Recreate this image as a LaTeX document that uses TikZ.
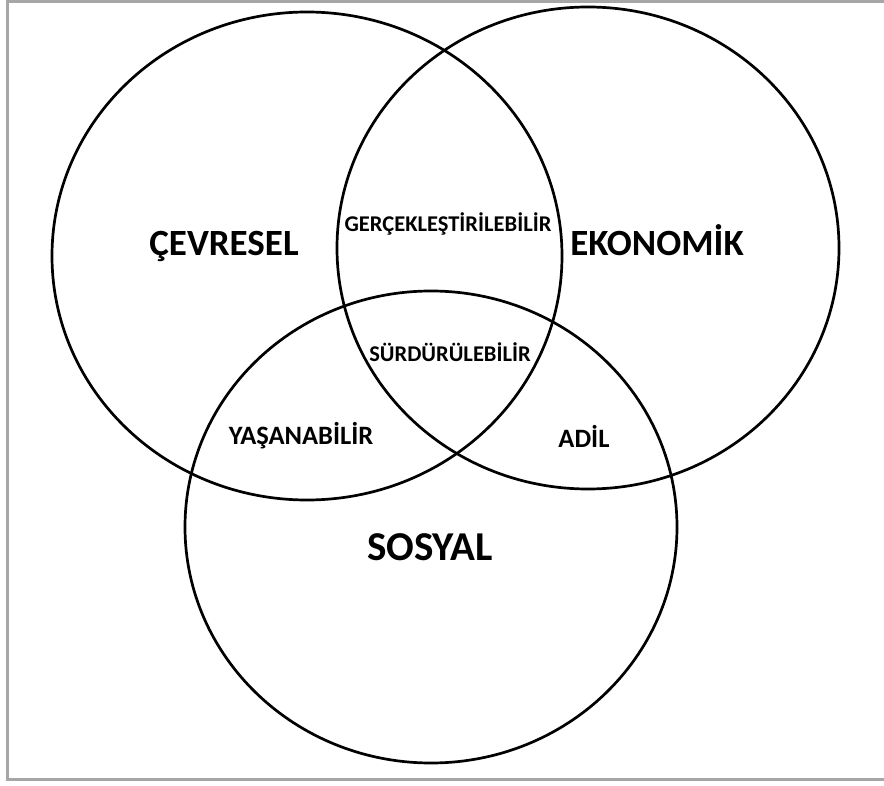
\documentclass[tikz,border=0pt]{standalone}
\usepackage{fontspec}
\setmainfont{Carlito}
\usetikzlibrary{shapes.geometric}
\definecolor{framegray}{HTML}{A6A6A6}
\tikzset{
  set/.style={ellipse, draw=black, line width=2.7pt, inner sep=0pt, fill=none},
  bigtag/.style={font=\bfseries\fontsize{37}{40}\selectfont, inner sep=0pt},
  midtag/.style={font=\bfseries\fontsize{26.5}{30}\selectfont, inner sep=0pt},
  smalltag/.style={font=\bfseries\fontsize{22.5}{26}\selectfont, inner sep=0pt},
}
\begin{document}
\begin{tikzpicture}[x=1pt, y=-1pt]
  \useasboundingbox (0,0) rectangle (884,786);
  \fill[white] (0,0) rectangle (884,786);
  % outer frame
  \draw[framegray, line width=2.2pt] (7.5,1.5) rectangle (890,779.5);

  % the three sets
  \node[set, minimum width=510pt, minimum height=488pt] (cev) at (307,256) {};
  \node[set, minimum width=502pt, minimum height=482pt] (eko) at (588,248) {};
  \node[set, minimum width=492pt, minimum height=472pt] (sos) at (431,527) {};

  % set names
  \node[bigtag] (tcev) at (224,246) {ÇEVRESEL};
  \node[bigtag] (teko) at (657,240) {EKONOMİK};
  \node[bigtag, font=\bfseries\fontsize{41}{44}\selectfont] (tsos) at (430,547) {SOSYAL};

  % overlap names
  \node[smalltag] (tger) at (448,224) {GERÇEKLEŞTİRİLEBİLİR};
  \node[smalltag] (tsur) at (450,352) {SÜRDÜRÜLEBİLİR};
  \node[midtag] (tyas) at (301,436) {YAŞANABİLİR};
  \node[midtag] (tadi) at (584,436) {ADİL};
\end{tikzpicture}
\end{document}
